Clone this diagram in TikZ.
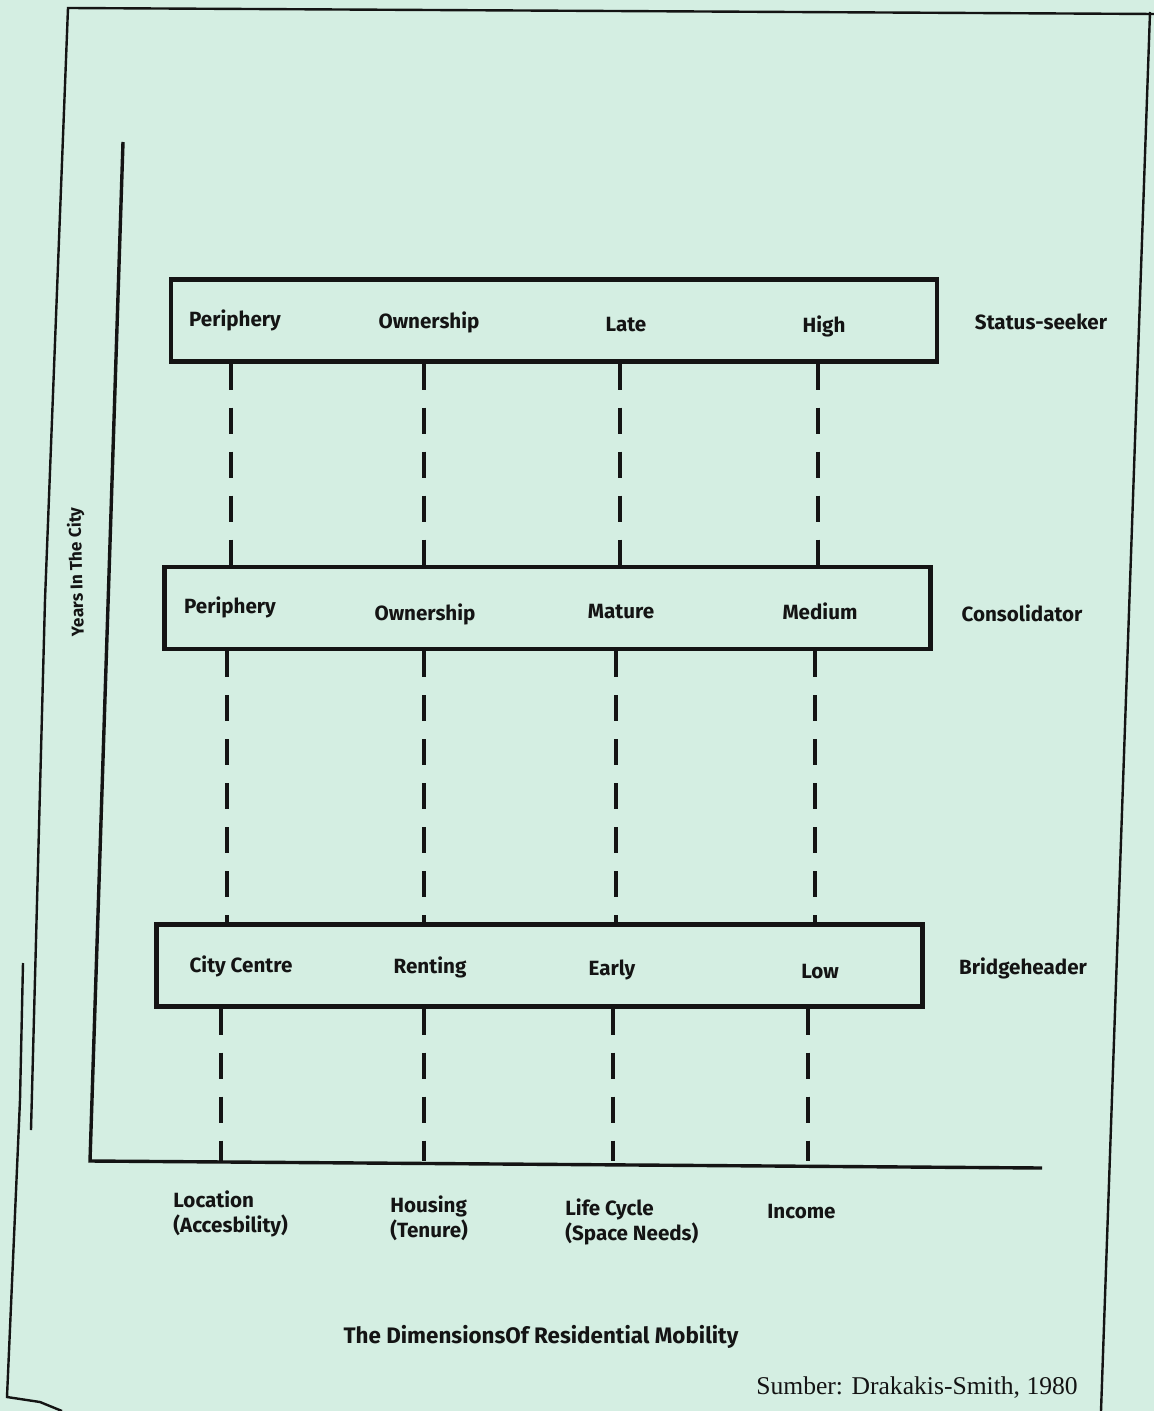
\documentclass[tikz,border=0pt]{standalone}
\usepackage{fontspec}
\setmainfont{Liberation Serif}
\newfontfamily\dimfont{Fira Sans}
\usetikzlibrary{positioning}
\definecolor{paper}{RGB}{212,238,226}
\definecolor{ink}{RGB}{20,20,20}

\begin{document}
\begin{tikzpicture}[x=0.5pt,y=-0.5pt]
\tikzstyle{every node}+=[inner sep=0pt]
\tikzstyle{lbl}=[font=\dimfont\bfseries\fontsize{10.3}{12.5}\selectfont, text=ink]
\tikzstyle{band}=[draw=ink, line width=2.1pt, minimum width=383pt, minimum height=41pt]
\tikzstyle{dimline}=[ink, line width=1.7pt, dash pattern=on 13pt off 9pt]
\tikzstyle{edge}=[ink, line width=1.2pt]
\tikzstyle{axis}=[ink, line width=1.7pt]

\useasboundingbox (0,0) rectangle (1154,1411);
\fill[paper] (0,0) rectangle (1154,1411);

% sheet edge
\draw[edge] (1154,14) -- (68,8) -- (45,600) -- (31,1130);
\draw[edge] (23,963) -- (20,1100) -- (7,1397) -- (40,1402) -- (62,1411);
\draw[edge] (1150,12) -- (1101,1411);

% axes
\coordinate (ytop) at (123,142);
\coordinate (o) at (90,1161);
\coordinate (xend) at (1042,1168);
\draw[axis] (ytop) -- (o) -- (xend);
\node[lbl, font=\dimfont\bfseries\fontsize{8.6}{10}\selectfont, rotate=91.5] (ylab) at (77,572) {Years In The City};

% the three stages
\node[band] (stat) at (554,320.5) {};
\node[band] (cons) at (547.5,608) {};
\node[band] (brid) at (539.5,965.5) {};

\node[lbl] (s1) at (235,320) {Periphery};
\node[lbl] (s2) at (429,322) {Ownership};
\node[lbl] (s3) at (626,325) {Late};
\node[lbl] (s4) at (824,326) {High};
\node[lbl] (sname) at (1041,322) {Status-seeker};

\node[lbl] (c1) at (230,607) {Periphery};
\node[lbl] (c2) at (425,614) {Ownership};
\node[lbl] (c3) at (621,612) {Mature};
\node[lbl] (c4) at (820,611) {Medium};
\node[lbl] (cname) at (1022,613) {Consolidator};

\node[lbl] (b1) at (241,966) {City Centre};
\node[lbl] (b2) at (430,967) {Renting};
\node[lbl] (b3) at (612,970) {Early};
\node[lbl] (b4) at (820,972) {Low};
\node[lbl] (bname) at (1023,968) {Bridgeheader};

% dimension links
\foreach \a/\b/\c in {231/227/221, 424/424/424, 620/616/613, 818/815/808}{
  \draw[dimline] (stat.south -| \a,0) -- (cons.north -| \a,0);
  \draw[dimline] (cons.south -| \b,0) -- (brid.north -| \b,0);
  \draw[dimline] (brid.south -| \c,0) -- (\c,0 |- o);
}

% dimensions
\node[lbl, anchor=west, align=left] (loc) at (173,1214) {Location\\(Accesbility)};
\node[lbl, anchor=west, align=left] (hou) at (390,1218) {Housing\\(Tenure)};
\node[lbl, anchor=west, align=left] (life) at (565,1222) {Life Cycle\\(Space Needs)};
\node[lbl, anchor=west] (inc) at (767,1212) {Income};

\node[lbl, font=\dimfont\bfseries\fontsize{11.2}{13}\selectfont] (title) at (541,1337) {The DimensionsOf Residential Mobility};
\node[font=\fontsize{12.8}{15}\selectfont, text=ink] (src) at (917,1388) {Sumber: Drakakis-Smith, 1980};
\end{tikzpicture}
\end{document}
